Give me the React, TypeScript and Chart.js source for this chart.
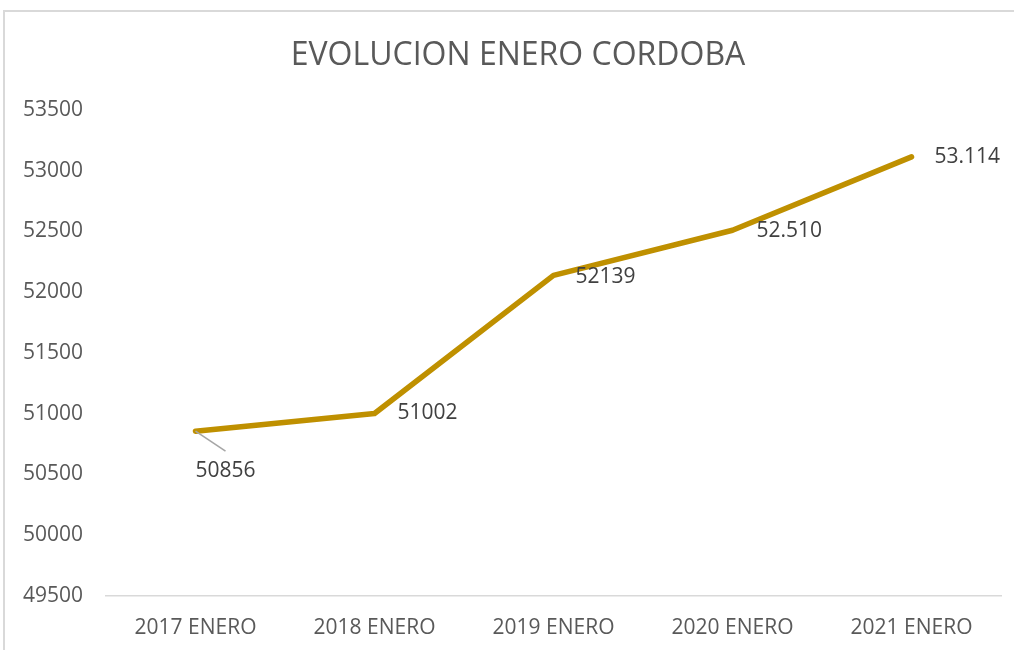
import React, { useEffect, useRef } from "react";
import { Chart, registerables } from "chart.js";

Chart.register(...registerables);

const categories = ["2017 ENERO", "2018 ENERO", "2019 ENERO", "2020 ENERO", "2021 ENERO"];
const values = [50856, 51002, 52139, 52510, 53114];
const valueLabels = ["50856", "51002", "52139", "52.510", "53.114"];
const titleText = "EVOLUCION ENERO CORDOBA";
const yMin = 49500;
const yMax = 53500;
const yStep = 500;

// label placement relative to each point: [dx of left edge, dy of text centre]
const labelOffsets = [
  [0, 40],
  [23, 0],
  [22, 2],
  [24, 1],
  [23, 0],
];

const FONT = "'Open Sans', 'Noto Sans', sans-serif";

const labelPlugin = {
  id: "valueLabels",
  afterDatasetsDraw(chart: any) {
    const ctx = chart.ctx;
    const meta = chart.getDatasetMeta(0);
    ctx.save();
    ctx.font = `21px ${FONT}`;
    ctx.fillStyle = "#404040";
    ctx.textAlign = "left";
    ctx.textBaseline = "middle";
    meta.data.forEach((pt: any, i: number) => {
      const [dx, dy] = labelOffsets[i];
      const x = pt.x + dx;
      const y = pt.y + dy;
      if (i === 0) {
        ctx.strokeStyle = "#a6a6a6";
        ctx.lineWidth = 1.5;
        ctx.beginPath();
        ctx.moveTo(pt.x, pt.y);
        ctx.lineTo(pt.x + 30, pt.y + 20);
        ctx.stroke();
      }
      ctx.fillText(valueLabels[i], x, y);
    });
    ctx.restore();
  },
};

// title centred on the full chart object (which extends past the right edge)
const titlePlugin = {
  id: "centredTitle",
  afterDraw(chart: any) {
    const ctx = chart.ctx;
    ctx.save();
    ctx.font = `32px ${FONT}`;
    ctx.fillStyle = "#595959";
    ctx.textAlign = "center";
    ctx.textBaseline = "middle";
    ctx.fillText(titleText, 518, 56);
    ctx.restore();
  },
};

export default function App() {
  const ref = useRef<HTMLCanvasElement | null>(null);

  useEffect(() => {
    if (!ref.current) return;
    const chart = new Chart(ref.current, {
      type: "line",
      data: {
        labels: categories,
        datasets: [
          {
            data: values,
            borderColor: "#BF9000",
            borderWidth: 5.5,
            pointRadius: 0,
            tension: 0,
            borderCapStyle: "round",
            borderJoinStyle: "round",
            fill: false,
          },
        ],
      },
      options: {
        responsive: false,
        animation: false,
        layout: { padding: { left: 0, right: 13, top: 110, bottom: 0 } },
        plugins: {
          legend: { display: false },
          tooltip: { enabled: false },
          title: { display: false },
        },
        scales: {
          x: {
            offset: true,
            grid: { display: false, drawTicks: false },
            border: { display: true, color: "#d9d9d9", width: 1.5 },
            ticks: {
              color: "#595959",
              font: { family: FONT, size: 21 },
              padding: 19,
              maxRotation: 0,
            },
            afterFit: (s: any) => {
              s.height = 54;
            },
          },
          y: {
            min: yMin,
            max: yMax,
            grid: { display: false, drawTicks: false },
            border: { display: false },
            ticks: {
              stepSize: yStep,
              color: "#595959",
              font: { family: FONT, size: 21 },
              padding: 23,
              callback: (v: any) => String(v),
            },
            afterFit: (s: any) => {
              s.width = 106;
            },
          },
        },
      },
      plugins: [labelPlugin, titlePlugin],
    });
    return () => chart.destroy();
  }, []);

  return (
    <div style={{ position: "fixed", left: 0, top: 0, width: 1014, height: 650, background: "#fff", overflow: "hidden" }}>
      <div
        style={{
          position: "absolute",
          left: 3,
          top: 10,
          width: 1100,
          height: 800,
          border: "2px solid #d9d9d9",
          boxSizing: "border-box",
          pointerEvents: "none",
        }}
      />
      <canvas ref={ref} width={1014} height={650} style={{ position: "absolute", left: 0, top: 0, display: "block" }} />
    </div>
  );
}
